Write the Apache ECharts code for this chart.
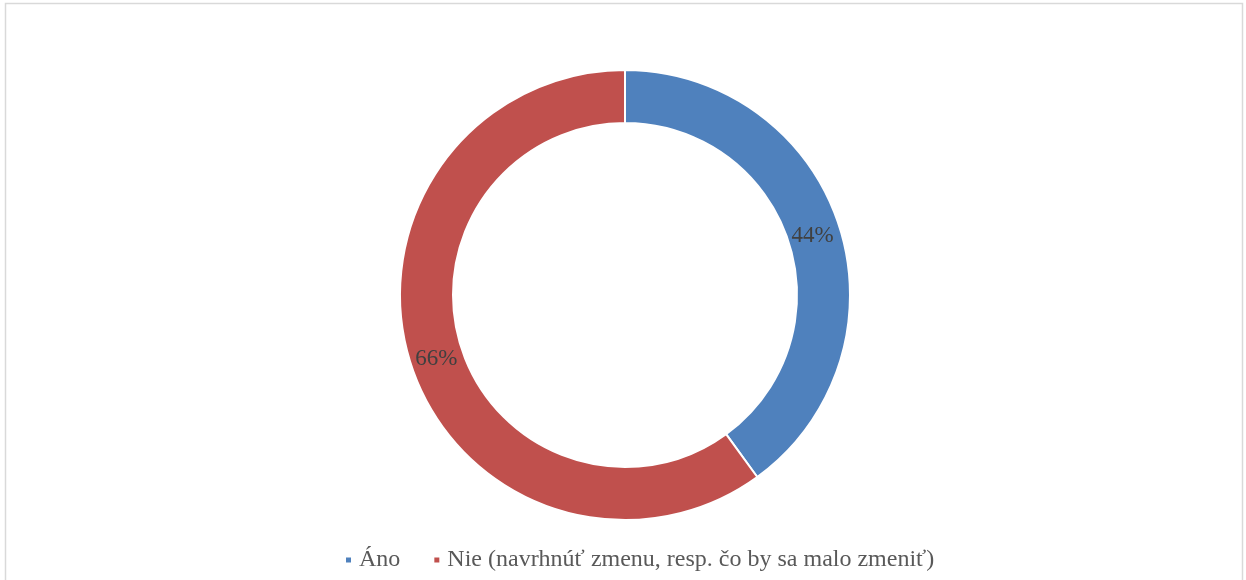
<!DOCTYPE html>
<html>
<head>
<meta charset="utf-8">
<script src="https://cdn.jsdelivr.net/npm/echarts@6/dist/echarts.min.js"></script>
<style>
html,body{margin:0;padding:0;background:#fff;}
#c{width:1246px;height:580px;}
</style>
</head>
<body>
<div id="c"></div>
<script>
const categories = ['Áno', 'Nie (navrhnúť zmenu, resp. čo by sa malo zmeniť)'];
const values = [44, 66];
const colors = ['#4F81BD', '#C0504D'];
const labelOffsets = [[-4, 3], [3, 2]];

const chart = echarts.init(document.getElementById('c'), null, {renderer: 'canvas'});
chart.setOption({
  animation: false,
  backgroundColor: '#ffffff',
  graphic: [{
    type: 'rect',
    shape: {x: 5.5, y: 3.5, width: 1237, height: 620},
    style: {fill: 'none', stroke: '#d9d9d9', lineWidth: 1.5},
    silent: true
  }],
  legend: {
    top: 543,
    left: 339,
    itemWidth: 7,
    itemHeight: 7,
    itemGap: 32,
    icon: 'rect',
    textStyle: {fontFamily: 'Liberation Serif', fontSize: 24, color: '#595959', padding: [0, 0, 0, 2]},
    data: categories
  },
  series: [{
    type: 'pie',
    center: [625, 295],
    radius: [172, 225],
    startAngle: 90,
    clockwise: true,
    avoidLabelOverlap: false,
    itemStyle: {borderColor: '#ffffff', borderWidth: 2},
    label: {
      show: true,
      position: 'inside',
      formatter: '{c}%',
      fontFamily: 'Liberation Serif',
      fontSize: 23,
      color: '#404040'
    },
    labelLine: {show: false},
    emphasis: {disabled: true},
    data: categories.map((n, i) => ({name: n, value: values[i], itemStyle: {color: colors[i]}, label: {offset: labelOffsets[i]}}))
  }]
});
</script>
</body>
</html>
